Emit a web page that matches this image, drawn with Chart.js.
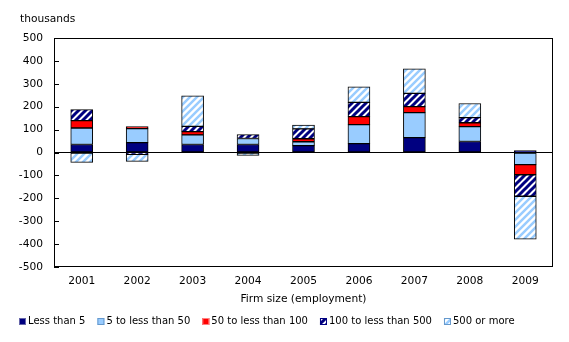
<!DOCTYPE html>
<html>
<head>
<meta charset="utf-8">
<script src="https://cdn.jsdelivr.net/npm/chart.js@4/dist/chart.umd.min.js"></script>
<style>
    html, body { margin: 0; padding: 0; background: #fff; }
    #wrap { width: 569px; height: 342px; }
</style>
</head>
<body>
<div id="wrap"><canvas id="firm-chart" width="569" height="342"></canvas></div>
<script>
// Net change by firm size, thousands
const years = ['2001', '2002', '2003', '2004', '2005', '2006', '2007', '2008', '2009'];
const lessThan5 = [35, 43, 35, 35, 30, 39, 65, 48, 8];
const fiveTo50 = [72, 61, 42, 26, 17, 83, 109, 65, -53];
const fiftyTo100 = [32, 9, 14, 0, 13, 35, 26, 17, -44];
const hundredTo500 = [48, -8, 23, 17, 43, 62, 58, 22, -94];
const fiveHundredPlus = [-43, -31, 133, -13, 17, 68, 107, 62, -187];
const yTicks = [-500, -400, -300, -200, -100, 0, 100, 200, 300, 400, 500];

const FONT = 'DejaVu Sans, Verdana, sans-serif';
const FONT_SIZE = 10.67;
const NAVY = '#000080';
const LIGHT_BLUE = '#99CCFF';
const RED = '#FF0000';

// diagonal "/" stripes on white
function makeHatch(color, size, width) {
    const tile = document.createElement('canvas');
    tile.width = size;
    tile.height = size;
    const t = tile.getContext('2d');
    t.fillStyle = '#fff';
    t.fillRect(0, 0, size, size);
    t.strokeStyle = color;
    t.lineWidth = width;
    t.beginPath();
    t.moveTo(0, size); t.lineTo(size, 0);
    t.moveTo(-size / 2, size / 2); t.lineTo(size / 2, -size / 2);
    t.moveTo(size / 2, size * 1.5); t.lineTo(size * 1.5, size / 2);
    t.stroke();
    return t.createPattern(tile, 'repeat');
}

const navyHatch = makeHatch(NAVY, 7, 3);
const blueHatch = makeHatch(LIGHT_BLUE, 7, 2.5);

function series(label, data, fill, edge) {
    return {
        label: label,
        data: data,
        backgroundColor: fill,
        legendEdge: edge,
        borderColor: '#000',
        borderWidth: 1,
        borderSkipped: false,
        barThickness: 22
    };
}

// frame, inward y ticks, unit label and legend
const decorations = {
    id: 'decorations',
    afterDraw(chart) {
        const ctx = chart.ctx;
        const area = chart.chartArea;
        const y = chart.scales.y;
        ctx.save();
        ctx.strokeStyle = '#000';
        ctx.lineWidth = 1;
        ctx.strokeRect(area.left + 0.5, area.top + 0.5, area.right - area.left - 1, area.bottom - area.top - 1);
        ctx.beginPath();
        y.ticks.forEach(t => {
            const py = Math.round(y.getPixelForValue(t.value)) + 0.5;
            ctx.moveTo(area.left, py);
            ctx.lineTo(area.left + 5, py);
        });
        ctx.stroke();

        ctx.fillStyle = '#000';
        ctx.font = FONT_SIZE + 'px ' + FONT;
        ctx.textBaseline = 'middle';
        ctx.textAlign = 'left';
        ctx.fillText('thousands', 20, 19);

        // legend row
        ctx.font = '10px ' + FONT;
        const box = 7, gapText = 2, gapItem = 12, cy = 321;
        const items = chart.data.datasets.map(ds => ({
            ds: ds,
            w: box + gapText + ctx.measureText(ds.label).width
        }));
        const total = items.reduce((s, it) => s + it.w, 0) + gapItem * (items.length - 1);
        let x = Math.round(267 - total / 2);
        items.forEach(it => {
            const by = Math.round(cy - box / 2);
            ctx.fillStyle = it.ds.backgroundColor;
            ctx.fillRect(x, by, box, box);
            ctx.strokeStyle = it.ds.legendEdge;
            ctx.strokeRect(x + 0.5, by + 0.5, box - 1, box - 1);
            ctx.fillStyle = '#000';
            ctx.fillText(it.ds.label, x + box + gapText, cy);
            x += it.w + gapItem;
        });
        ctx.restore();
    }
};

const ctx = document.getElementById('firm-chart').getContext('2d');
new Chart(ctx, {
    type: 'bar',
    data: {
        labels: years,
        datasets: [
            series('Less than 5', lessThan5, NAVY, '#6666AA'),
            series('5 to less than 50', fiveTo50, LIGHT_BLUE, '#6699CC'),
            series('50 to less than 100', fiftyTo100, RED, '#FF8080'),
            series('100 to less than 500', hundredTo500, navyHatch, NAVY),
            series('500 or more', fiveHundredPlus, blueHatch, '#6699CC')
        ]
    },
    options: {
        responsive: false,
        animation: false,
        layout: { padding: { top: 38, right: 16, left: 0, bottom: 36 } },
        plugins: {
            legend: { display: false },
            tooltip: { enabled: false }
        },
        scales: {
            x: {
                stacked: true,
                afterFit(scale) { scale.height = 39; },
                grid: { display: false, drawTicks: false },
                border: { display: false },
                ticks: { color: '#000', padding: 8, font: { family: FONT, size: FONT_SIZE }, maxRotation: 0 },
                title: {
                    display: true,
                    text: 'Firm size (employment)',
                    color: '#000',
                    font: { family: FONT, size: FONT_SIZE },
                    padding: { top: 4, bottom: 0 }
                }
            },
            y: {
                stacked: true,
                min: -500,
                max: 500,
                afterBuildTicks(scale) {
                    scale.ticks = yTicks.map(v => ({ value: v }));
                },
                afterFit(scale) { scale.width = 54; },
                grid: {
                    drawTicks: false,
                    color: c => (c.tick && c.tick.value === 0 ? '#000' : 'rgba(0,0,0,0)')
                },
                border: { display: false },
                ticks: { color: '#000', padding: 11, font: { family: FONT, size: FONT_SIZE } }
            }
        }
    },
    plugins: [decorations]
});
</script>
</body>
</html>
